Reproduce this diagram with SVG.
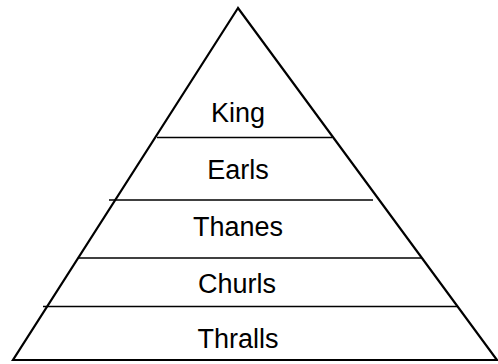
<svg xmlns="http://www.w3.org/2000/svg" width="498" height="364" viewBox="0 0 498 364">
<style>
.tri{fill:none;stroke:#000;stroke-width:2.2;stroke-linejoin:miter}
.sep{stroke:#000;stroke-width:1.3}
.lbl{font-family:"Liberation Sans",Arial,sans-serif;font-size:27px;fill:#000;text-anchor:middle}
</style>
<rect width="498" height="364" fill="#fff"/>
<g id="pyramid">
<polygon class="tri" points="238,8 13,360 497,360"/>
</g>
<g id="connectors">
<line class="sep" x1="157" y1="137.5" x2="332" y2="137.5"/>
<line class="sep" x1="109" y1="200" x2="373" y2="200"/>
<line class="sep" x1="78" y1="258" x2="422" y2="258"/>
<line class="sep" x1="43" y1="306.5" x2="458" y2="306.5"/>
</g>
<g id="king"><text class="lbl" x="238" y="121.5">King</text></g>
<g id="earls"><text class="lbl" x="238" y="179">Earls</text></g>
<g id="thanes"><text class="lbl" x="238" y="236">Thanes</text></g>
<g id="churls"><text class="lbl" x="237" y="293">Churls</text></g>
<g id="thralls"><text class="lbl" x="238" y="348">Thralls</text></g>
</svg>
